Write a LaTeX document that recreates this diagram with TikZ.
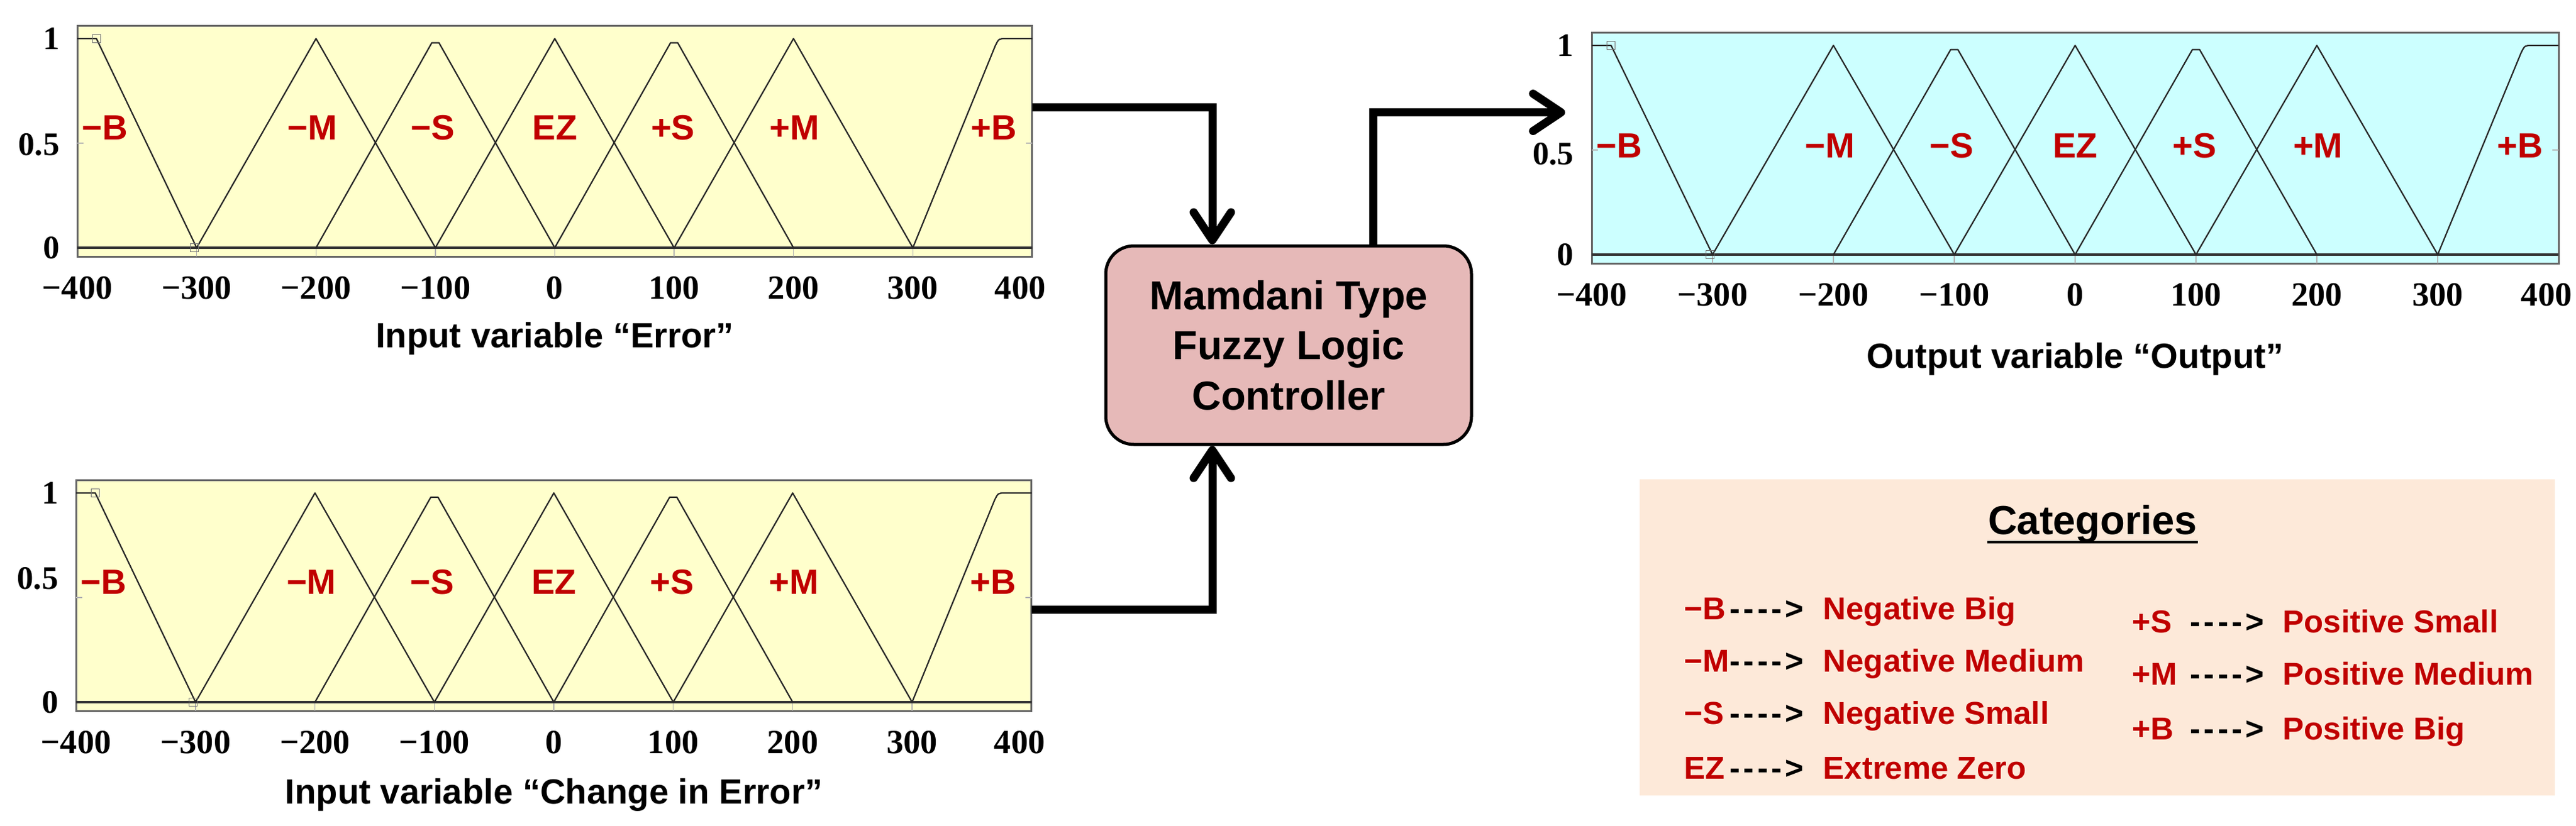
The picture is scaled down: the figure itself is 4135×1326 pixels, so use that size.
\documentclass[tikz,border=0pt]{standalone}
\usepackage{fontspec}
\setmainfont{Liberation Serif}
\setsansfont{Liberation Sans}
\usetikzlibrary{arrows.meta,positioning}
\definecolor{errbg}{HTML}{FFFFCC}
\definecolor{outbg}{HTML}{CCFFFF}
\definecolor{flcfill}{HTML}{E6B9B8}
\definecolor{catfill}{HTML}{FDE9D9}
\definecolor{mfred}{HTML}{C00000}

\begin{document}
\begin{tikzpicture}[x=0.1mm, y=-0.1mm]
\tikzstyle{plotframe}=[draw=black!60, line width=0.3mm]
\tikzstyle{zeroline}=[draw=black!80, line width=0.35mm]
\tikzstyle{gridtick}=[draw=black!30, line width=0.15mm]
\tikzstyle{mf}=[draw=black!85, line width=0.22mm, line join=round]
\tikzstyle{mfmark}=[draw=black!55, line width=0.15mm, shape=rectangle, minimum size=1.3mm, inner sep=0pt]
\tikzstyle{mflabel}=[text=mfred, font=\sffamily\bfseries\fontsize{16}{19}\selectfont, inner sep=0pt]
\tikzstyle{ylab}=[font=\bfseries\fontsize{15}{18}\selectfont, anchor=east, inner sep=0pt, xshift=-2.8mm]
\tikzstyle{xlab}=[font=\bfseries\fontsize{15.5}{18}\selectfont, anchor=base, inner sep=0pt, yshift=-8.2mm]
\tikzstyle{vartitle}=[font=\sffamily\bfseries\fontsize{16}{19}\selectfont, anchor=base, inner sep=0pt]
\tikzstyle{flcbox}=[draw, line width=0.5mm, fill=flcfill, rounded corners=4.5mm, minimum width=58.7mm, minimum height=31.9mm, align=center, font=\sffamily\bfseries\fontsize{18.5}{22.9}\selectfont]
\tikzstyle{flow}=[line width=1.3mm, -{Straight Barb[round, length=4.5mm, width=6mm]}]
\tikzstyle{catbox}=[fill=catfill, minimum width=146.9mm, minimum height=50.8mm, inner sep=0pt]
\tikzstyle{cattext}=[font=\sffamily\bfseries\fontsize{14.5}{17}\selectfont, anchor=base west, inner sep=0pt, text=mfred]
\tikzstyle{catarrow}=[cattext, text=black]
\useasboundingbox (0,0) rectangle (4135,1326);

% membership function plots
\foreach \n/\cx/\cy/\sx/\bg/\ly/\hy/\ty/\px/\py/\ttl in {
  err/890.5/398/0.1916mm/errbg/0.575/0.494/16mm/400/0.67/Input variable “Error”,
  cerr/889/1128/0.1917mm/errbg/0.575/0.59/16.3mm/400/0.443/Input variable “Change in Error”,
  outp/3331/409/0.194mm/outbg/0.52/0.48/18.2mm/-422/0.68/Output variable “Output”}
{
\begin{scope}[shift={(\cx,\cy)}, x=\sx, y=33.6mm]
\draw[plotframe, fill=\bg] (-400,-0.042) rectangle (400,1.062);
\foreach \t in {-300,-200,...,300} \draw[gridtick] (\t,0) -- (\t,-0.042);
\draw[gridtick] (-400,0.5) -- (-395,0.5) (400,0.5) -- (395,0.5);
\draw[zeroline] (-400,0) -- (400,0);
\draw[mf] (-400,1) -- (-384,1) -- (-300,0);
\draw[mf] (-300,0) -- (-200,1) -- (-100,0);
\draw[mf] (-200,0) -- (-103,0.98) -- (-97,0.98) -- (0,0);
\draw[mf] (-100,0) -- (0,1) -- (100,0);
\draw[mf] (0,0) -- (97,0.98) -- (103,0.98) -- (200,0);
\draw[mf] (100,0) -- (200,1) -- (300,0);
\draw[mf] (300,0) -- (369,0.965) .. controls (372,1) .. (378,1) -- (400,1);
\node[mfmark] (\n-m1) at (-384,1) {};
\node[mfmark] (\n-m2) at (-302,0) {};
\foreach \lx/\lt/\lk in {-377/−B/nb, -203/−M/nm, -102/−S/ns, 0/EZ/ez, 99/+S/ps, 201/+M/pm, 368/+B/pb}
  \node[mflabel] (\n-\lk) at (\lx,\ly) {\lt};
\foreach \t/\tx/\s in {-400/-400/−400, -300/-300/−300, -200/-200/−200, -100/-100/−100, 0/0/0, 100/100/100, 200/200/200, 300/300/300, 400/390/400}
  \node[xlab] (\n-x\t) at (\tx,0) {\s};
\node[ylab] (\n-y1) at (-400,1) {1};
\node[ylab] (\n-y5) at (-400,\hy) {0.5};
\node[ylab] (\n-y0) at (-400,0) {0};
\node[vartitle] (\n-title) at (0,0) [yshift=-\ty] {\ttl};
\coordinate (\n-port) at (\px,\py);
\end{scope}
}

% controller
\node[flcbox] (flc) at (2068.5,554.5) {Mamdani Type\\Fuzzy Logic\\Controller};
\draw[flow] (err-port) -| ([xshift=-12.25mm]flc.north);
\draw[flow] (cerr-port) -| ([xshift=-12.25mm]flc.south);
\draw[flow] ([xshift=13.6mm]flc.north) |- (outp-port);

% categories
\node[catbox] (catbox) at (3366.5,1024) {};
\node[font=\sffamily\bfseries\fontsize{18.5}{22}\selectfont, anchor=base, inner sep=0pt] (cat) at (3359,858) {Categories};
\draw[line width=0.45mm] ([yshift=-1.3mm]cat.base west) -- ([yshift=-1.3mm]cat.base east);
\foreach \c/\d/\y/\k in {−B/Negative Big/995/nb, −M/Negative Medium/1079/nm, −S/Negative Small/1163/ns, EZ/Extreme Zero/1251/ez}
{
\node[cattext] (c-\k) at (2703,\y) {\c};
\node[catarrow] (a-\k) at (2776,\y) {-\kern1.5pt-\kern1.5pt-\kern1.5pt-\kern1.5pt>};
\node[cattext] (d-\k) at (2926,\y) {\d};
}
\foreach \c/\d/\y/\k in {+S/Positive Small/1016/ps, +M/Positive Medium/1100/pm, +B/Positive Big/1188/pb}
{
\node[cattext] (c-\k) at (3422,\y) {\c};
\node[catarrow] (a-\k) at (3515,\y) {-\kern1.5pt-\kern1.5pt-\kern1.5pt-\kern1.5pt>};
\node[cattext] (d-\k) at (3664,\y) {\d};
}
\end{tikzpicture}
\end{document}
